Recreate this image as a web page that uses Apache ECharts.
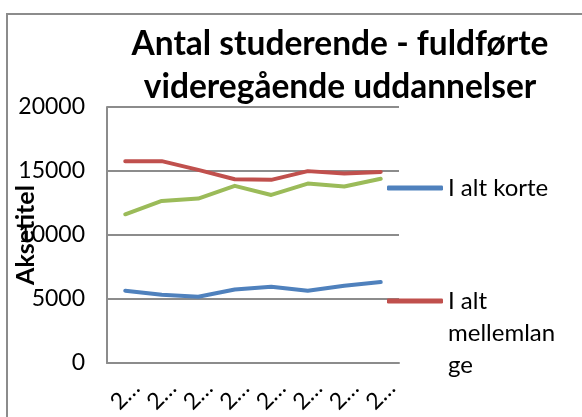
<!DOCTYPE html>
<html>
<head>
<meta charset="utf-8">
<script src="https://cdn.jsdelivr.net/npm/echarts@6/dist/echarts.min.js"></script>
<style>html,body{margin:0;padding:0;background:#fff}#c{width:582px;height:417px}</style>
</head>
<body>
<div id="c"></div>
<script>
const titleText = 'Antal studerende - fuldførte\nvideregående uddannelser';
const categories = ['2004','2005','2006','2007','2008','2009','2010','2011'];
const yTicks = { min: 0, max: 20000, interval: 5000 };
const seriesNames = ['I alt korte', 'I alt mellemlange', 'I alt lange'];
const korte = [5640, 5330, 5170, 5740, 5950, 5640, 6030, 6320];
const mellemlange = [15770, 15770, 15090, 14360, 14310, 14990, 14800, 14930];
const lange = [11620, 12660, 12850, 13840, 13130, 14020, 13790, 14390];
const colors = ['#4F81BD', '#C0504D', '#9BBB59'];

const FONT = 'Lato';
const chart = echarts.init(document.getElementById('c'));
const mk = (name, data, color) => ({
  name, type: 'line', data, symbol: 'none',
  lineStyle: { width: 4, color, cap: 'round', join: 'round' },
  itemStyle: { color }
});
const legendText = { fontFamily: FONT, fontSize: 24, color: '#000', lineHeight: 32, width: 118, overflow: 'break' };
chart.setOption({
  animation: false,
  textStyle: { fontFamily: FONT },
  graphic: [{
    type: 'rect', shape: { x: 7, y: 14, width: 700, height: 500 },
    style: { fill: 'none', stroke: '#8c8c8c', lineWidth: 2 }, silent: true
  }],
  title: {
    text: titleText, left: 335, top: 18, textAlign: 'center',
    textStyle: { fontFamily: FONT, fontSize: 33.5, fontWeight: 'bold', color: '#000', lineHeight: 43 }
  },
  grid: { left: 107, top: 107, right: 183, bottom: 54, containLabel: false, outerBoundsMode: 'none' },
  xAxis: {
    type: 'category', data: categories, boundaryGap: true,
    axisLine: { lineStyle: { color: '#8c8c8c', width: 2 } },
    axisTick: { show: false },
    axisLabel: { rotate: 45, margin: 32, interval: 0, align: 'center', verticalAlign: 'middle',
      fontSize: 23, color: '#000', fontFamily: FONT,
      formatter: v => v.charAt(0) + '…' }
  },
  yAxis: {
    type: 'value', min: yTicks.min, max: yTicks.max, interval: yTicks.interval,
    name: 'Aksetitel', nameLocation: 'middle', nameRotate: 90, nameGap: 69, nameMoveOverlap: false,
    nameTextStyle: { fontFamily: FONT, fontSize: 25, fontWeight: 'bold', color: '#000' },
    axisLine: { show: true, lineStyle: { color: '#8c8c8c', width: 2 } },
    axisTick: { show: false },
    splitLine: { lineStyle: { color: '#8c8c8c', width: 2 } },
    axisLabel: { margin: 22, fontSize: 23, color: '#000', fontFamily: FONT, formatter: v => String(v) }
  },
  legend: [{
    orient: 'vertical', left: 387, top: 172, padding: 0,
    itemWidth: 56, itemHeight: 5, icon: 'roundRect',
    data: [seriesNames[0]], textStyle: legendText
  }, {
    orient: 'vertical', left: 387, top: 221, padding: 0,
    itemWidth: 56, itemHeight: 5, icon: 'roundRect',
    data: [seriesNames[1]], textStyle: legendText,
    formatter: name => '\n\n' + name
  }],
  series: [
    mk(seriesNames[0], korte, colors[0]),
    mk(seriesNames[1], mellemlange, colors[1]),
    mk(seriesNames[2], lange, colors[2])
  ]
});
</script>
</body>
</html>
